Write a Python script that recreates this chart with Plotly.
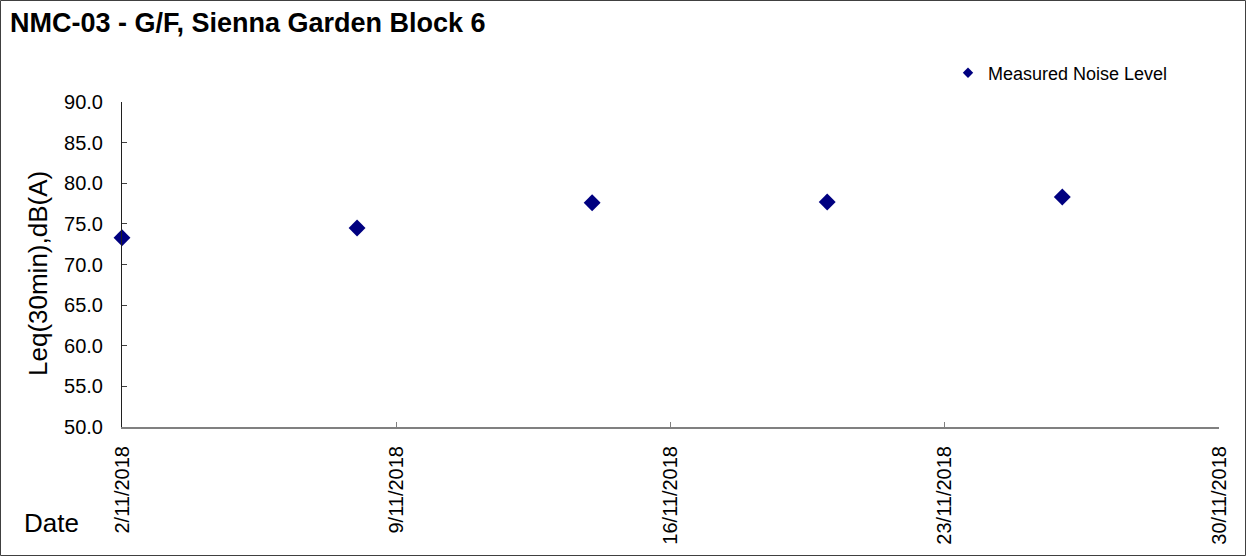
import plotly.graph_objects as go

dates = ["2018-11-02", "2018-11-08", "2018-11-14", "2018-11-20", "2018-11-26"]
leq = [73.3, 74.5, 77.6, 77.7, 78.3]
tick_dates = ["2018-11-02", "2018-11-09", "2018-11-16", "2018-11-23", "2018-11-30"]
tick_labels = ["2/11/2018", "9/11/2018", "16/11/2018", "23/11/2018", "30/11/2018"]
y_ticks = [50, 55, 60, 65, 70, 75, 80, 85, 90]

W, H = 1246, 556
L, R, T, B = 122, 27, 102, 129
pw, ph = W - L - R, H - T - B


def px(xs):
    """screen x pixel -> paper x"""
    return (xs - L) / pw


def py(ys):
    """screen y pixel -> paper y"""
    return (H - B - ys) / ph


FONT = "Liberation Sans, Arial, sans-serif"

fig = go.Figure()
fig.add_trace(go.Scatter(
    x=dates, y=leq, mode="markers", name="Measured Noise Level",
    marker=dict(symbol="diamond", color="#000080", size=13),
    cliponaxis=False, showlegend=False,
))
# legend entry (smaller symbol, as in the reference)
fig.add_trace(go.Scatter(
    x=[None], y=[None], mode="markers", name="Measured Noise Level",
    marker=dict(symbol="diamond", color="#000080", size=8),
    showlegend=True,
))

fig.update_layout(
    width=W, height=H,
    margin=dict(l=L, r=R, t=T, b=B),
    paper_bgcolor="white", plot_bgcolor="white",
    font=dict(family=FONT, color="black"),
    title=dict(text="<b>NMC-03 - G/F, Sienna Garden Block 6</b>",
               xref="container", yref="container", x=10 / W, xanchor="left",
               y=1 - 23 / H, yanchor="middle", font=dict(size=27, family=FONT)),
    showlegend=True,
    legend=dict(x=px(948), y=py(73), xanchor="left", yanchor="middle",
                font=dict(size=18, family=FONT), bgcolor="rgba(0,0,0,0)",
                itemwidth=30),
    xaxis=dict(type="date", range=["2018-11-02", "2018-11-30"],
               tickvals=tick_dates, ticktext=tick_labels, tickangle=-90,
               ticks="inside", ticklen=5, tickcolor="#808080",
               showline=True, linecolor="#808080", linewidth=2,
               showgrid=False, zeroline=False, ticklabelstandoff=9,
               tickfont=dict(size=20, family=FONT)),
    yaxis=dict(range=[50, 90], tickvals=y_ticks,
               ticktext=[f"{v:.1f}" for v in y_ticks],
               ticks="inside", ticklen=5, tickcolor="#404040",
               showline=True, linecolor="#202020", linewidth=1,
               showgrid=False, zeroline=False, ticklabelstandoff=14,
               tickfont=dict(size=20, family=FONT)),
    annotations=[
        dict(text="Leq(30min),dB(A)", xref="paper", yref="paper",
             x=px(38), y=py(274), textangle=-90, showarrow=False,
             xanchor="center", yanchor="middle", font=dict(size=26, family=FONT)),
        dict(text="Date", xref="paper", yref="paper",
             x=px(51), y=py(523), showarrow=False,
             xanchor="center", yanchor="middle", font=dict(size=26, family=FONT)),
    ],
    shapes=[
        dict(type="rect", xref="paper", yref="paper",
             x0=px(0.5), x1=px(W - 0.5), y0=py(H - 0.5), y1=py(0.5),
             line=dict(color="#404040", width=1), fillcolor="rgba(0,0,0,0)"),
    ],
)

fig.write_html("out.html", config={"displayModeBar": False},
               post_script="document.body.style.margin='0';")
